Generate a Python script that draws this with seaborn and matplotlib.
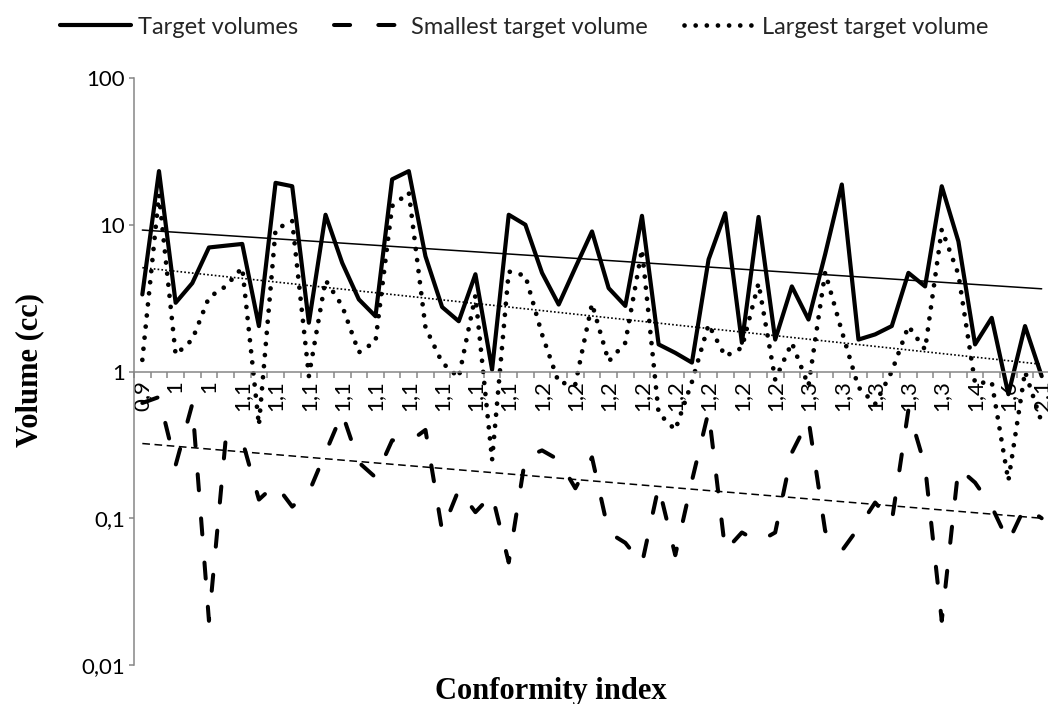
import numpy as np
import pandas as pd
import matplotlib
matplotlib.use("Agg")
import matplotlib.pyplot as plt
import seaborn as sns
from matplotlib.ticker import FixedLocator, FixedFormatter, NullLocator

# Conformity index of each plan (category axis, rounded to one decimal)
ci_labels = [
    "0,9", "1", "1", "1", "1", "1,1", "1,1", "1,1", "1,1", "1,1",
    "1,1", "1,1", "1,1", "1,1", "1,1", "1,1", "1,1", "1,1", "1,1", "1,1",
    "1,1", "1,1", "1,1", "1,2", "1,2", "1,2", "1,2", "1,2", "1,2", "1,2",
    "1,2", "1,2", "1,2", "1,2", "1,2", "1,2", "1,2", "1,2", "1,2", "1,2",
    "1,3", "1,3", "1,3", "1,3", "1,3", "1,3", "1,3", "1,3", "1,3", "1,3",
    "1,4", "1,5", "1,6", "1,8", "2,1",
]

# Volumes in cc
target_volumes = [
    3.35, 23.2, 2.94, 4.0, 7.0, 7.2, 7.4, 2.04, 19.3, 18.3,
    2.15, 11.7, 5.5, 3.1, 2.38, 20.4, 23.2, 6.1, 2.75, 2.2,
    4.6, 1.03, 11.7, 10.0, 4.7, 2.86, 5.1, 9.0, 3.7, 2.8,
    11.5, 1.53, 1.34, 1.15, 5.8, 12.0, 1.57, 11.3, 1.65, 3.8,
    2.26, 6.3, 18.8, 1.65, 1.79, 2.04, 4.7, 3.8, 18.3, 7.7,
    1.53, 2.32, 0.7, 2.04, 0.93,
]
smallest_volume = [
    0.61, 0.67, 0.23, 0.6, 0.02, 0.34, 0.34, 0.134, 0.17, 0.12,
    0.15, 0.28, 0.52, 0.24, 0.19, 0.34, 0.33, 0.40, 0.082, 0.157,
    0.11, 0.145, 0.05, 0.26, 0.29, 0.25, 0.16, 0.26, 0.08, 0.068,
    0.049, 0.165, 0.056, 0.18, 0.535, 0.06, 0.08, 0.069, 0.08, 0.28,
    0.47, 0.082, 0.06, 0.086, 0.128, 0.095, 0.55, 0.226, 0.02, 0.22,
    0.175, 0.12, 0.069, 0.12, 0.1,
]
largest_volume = [
    1.2, 16.0, 1.3, 1.65, 3.2, 3.8, 5.1, 0.43, 9.3, 10.6,
    0.93, 4.2, 2.8, 1.35, 1.6, 13.4, 16.6, 2.0, 1.15, 0.91,
    3.3, 0.25, 4.8, 4.5, 1.79, 0.84, 0.82, 2.9, 1.17, 1.57,
    6.8, 0.52, 0.40, 0.85, 2.09, 1.27, 1.45, 4.0, 0.88, 1.57,
    0.8, 4.75, 1.88, 0.78, 0.6, 1.0, 2.04, 1.41, 9.3, 4.6,
    0.83, 0.85, 0.18, 1.0, 0.45,
]

series_names = ["Target volumes", "Smallest target volume", "Largest target volume"]

# exponential trend lines: value at the first and at the last category
trend_first = [9.2, 0.323, 5.1]
trend_last = [3.66, 0.10, 1.12]

sns.set_theme(style="white")
plt.rcParams["font.family"] = ["Lato", "DejaVu Sans"]

W, H = 1048, 704
fig = plt.figure(figsize=(W / 100, H / 100), dpi=100)
ax = fig.add_axes([134 / W, 1 - 665 / H, 916 / W, 587 / H])

idx = np.arange(len(ci_labels))
df = pd.DataFrame({
    "idx": idx,
    series_names[0]: target_volumes,
    series_names[1]: smallest_volume,
    series_names[2]: largest_volume,
})

styles = {
    series_names[0]: dict(lw=3.0, linestyle="-"),
    series_names[1]: dict(lw=2.9, linestyle=(0, (4.0, 7.0)), dash_capstyle="round"),
    series_names[2]: dict(lw=3.4, linestyle=(0, (0.01, 2.35)), dash_capstyle="round"),
}
trend_styles = {
    series_names[0]: dict(lw=1.1, linestyle="-"),
    series_names[1]: dict(lw=1.1, linestyle=(0, (5, 3))),
    series_names[2]: dict(lw=1.2, linestyle=(0, (1, 1.3))),
}

for name in series_names:
    sns.lineplot(data=df, x="idx", y=name, ax=ax, color="black",
                 label=name, **styles[name])

# trend lines are straight on the log axis between their end values
t = idx / idx[-1]
for name, v0, v1 in zip(series_names, trend_first, trend_last):
    trend = pd.DataFrame({"idx": idx,
                          "fit": 10 ** (np.log10(v0) + t * (np.log10(v1) - np.log10(v0)))})
    sns.lineplot(data=trend, x="idx", y="fit", ax=ax, color="black",
                 label="_nolegend_", **trend_styles[name])

# y axis: log scale with comma decimals
ax.set_yscale("log")
ax.set_ylim(0.01, 100)
ax.yaxis.set_major_locator(FixedLocator([0.01, 0.1, 1, 10, 100]))
ax.yaxis.set_major_formatter(FixedFormatter(["0,01", "0,1", "1", "10", "100"]))
ax.yaxis.set_minor_locator(NullLocator())

# x axis: category axis crossing at 1
ax.set_xlim(-0.5, len(ci_labels) - 0.5)
ax.xaxis.set_major_locator(FixedLocator(np.arange(-0.5, len(ci_labels), 1.0)))
ax.xaxis.set_major_formatter(FixedFormatter([""] * (len(ci_labels) + 1)))
ax.xaxis.set_minor_locator(FixedLocator(idx[::2]))
ax.xaxis.set_minor_formatter(FixedFormatter(ci_labels[::2]))
ax.spines["bottom"].set_position(("data", 1))

axis_grey = "#868686"
for side in ["top", "right"]:
    ax.spines[side].set_visible(False)
for side in ["left", "bottom"]:
    ax.spines[side].set_color(axis_grey)
    ax.spines[side].set_linewidth(1.1)

ax.tick_params(axis="x", which="major", direction="out", length=4.3,
               width=1.1, color=axis_grey, bottom=True)
ax.tick_params(axis="x", which="minor", length=0, pad=6, labelsize=16,
               labelrotation=90, labelcolor="black", bottom=True)
ax.tick_params(axis="y", which="major", direction="out", length=3.5,
               width=1.1, color=axis_grey, pad=3, labelsize=16,
               labelcolor="black", left=True)

ax.set_xlabel("Conformity index", family="Liberation Serif", weight="bold",
              fontsize=22, color="black")
ax.xaxis.set_label_coords((551 - 134) / 916, (665 - 677) / 587)
ax.set_ylabel("Volume (cc)", family="Liberation Serif", weight="bold",
              fontsize=22, color="black")
ax.yaxis.set_label_coords((44 - 134) / 916, (665 - 370) / 587)

handles, labels = ax.get_legend_handles_labels()
ax.get_legend().remove()
fig.legend(handles, labels, loc="center", bbox_to_anchor=(524 / W, 1 - 27 / H),
           ncol=3, frameon=False, fontsize=17, handlelength=3.0,
           handletextpad=0.3, columnspacing=1.5)

fig.savefig("out.png", dpi=100, facecolor="white")
